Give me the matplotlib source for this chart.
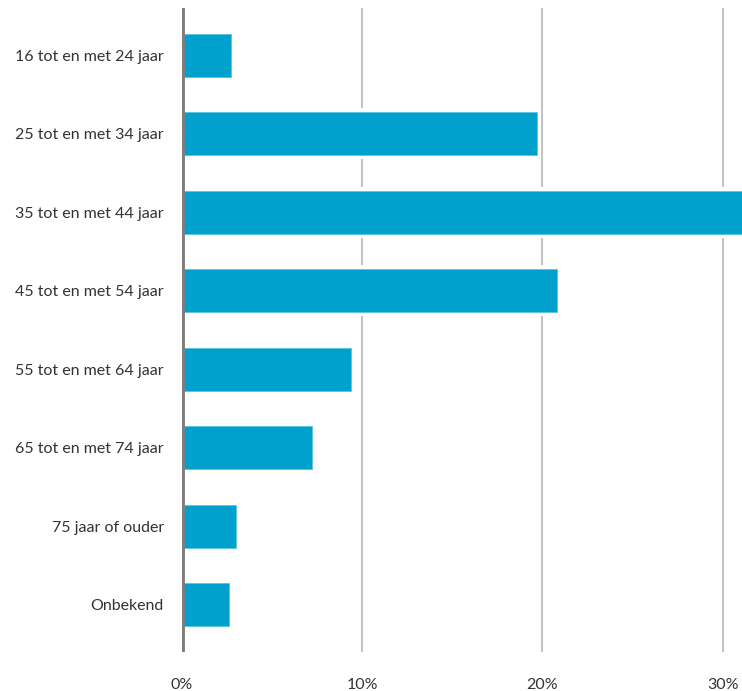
import matplotlib.pyplot as plt
from matplotlib.ticker import FuncFormatter

categories = ['16 tot en met 24 jaar', '25 tot en met 34 jaar', '35 tot en met 44 jaar',
              '45 tot en met 54 jaar', '55 tot en met 64 jaar', '65 tot en met 74 jaar',
              '75 jaar of ouder', 'Onbekend']
values = [2.7, 19.7, 32.0, 20.8, 9.4, 7.2, 3.0, 2.6]
xticks = [0, 10, 20, 30]

plt.rcParams['font.family'] = ['Lato', 'DejaVu Sans']

fig = plt.figure(figsize=(7.42, 6.91), dpi=100)
ax = fig.add_axes([182 / 742, 1 - 652 / 691, 1 - 182 / 742, 644 / 691])

y = range(len(categories))
for xv in xticks[1:]:
    ax.axvline(xv, color='#c4c4c4', lw=1.5, zorder=1)
# white backing bars interrupt the gridlines around each bar
ax.barh(y, [v + 0.25 for v in values], height=0.65, color='white', zorder=2)
ax.barh(y, values, height=0.55, color='#00a1cd', edgecolor='#5cc3e0', lw=0.6, zorder=3)
ax.axvline(0, color='#7f7f7f', lw=3.5, zorder=4)

ax.set_xlim(0, (742 - 182) / 18.02)
ax.set_ylim(7.6, -0.6)
ax.set_yticks(list(y))
ax.set_yticklabels(categories)
ax.set_xticks(xticks)
ax.xaxis.set_major_formatter(FuncFormatter(lambda v, p: f'{v:.0f}%'))
ax.tick_params(length=0, labelsize=11.5, colors='#333333')
ax.tick_params(axis='y', pad=13)
ax.tick_params(axis='x', pad=19)
for s in ax.spines.values():
    s.set_visible(False)

fig.savefig('out.png', dpi=100)
